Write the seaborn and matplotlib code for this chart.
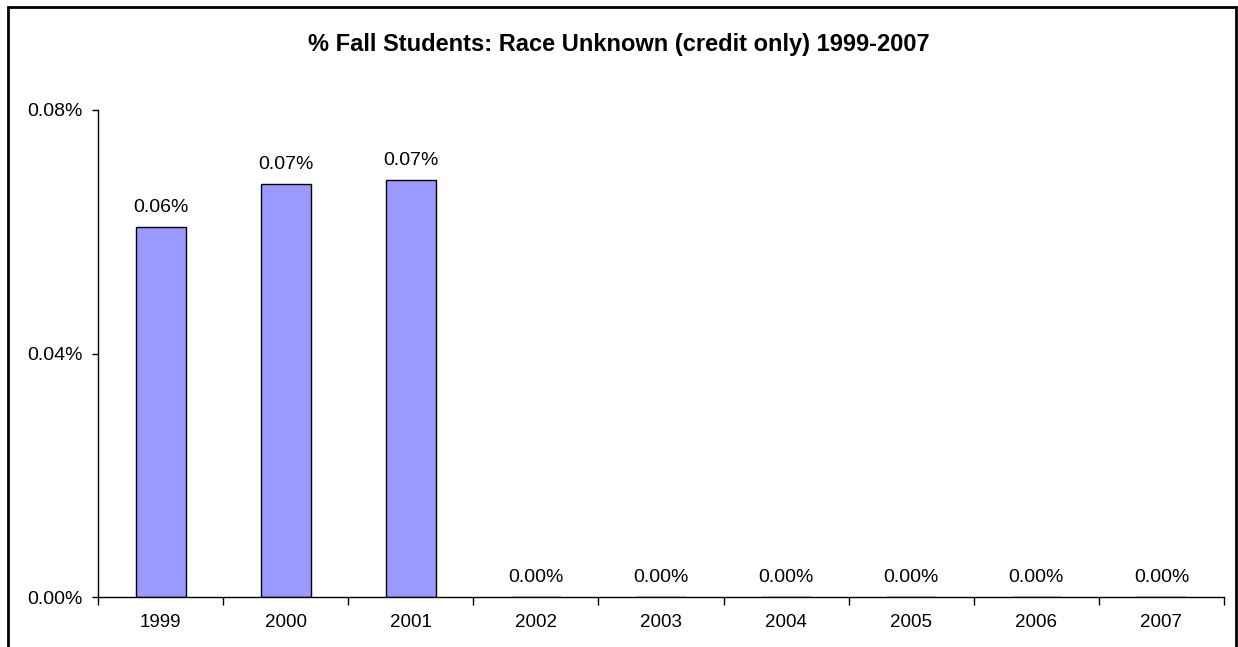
import matplotlib
matplotlib.use("Agg")
import matplotlib.pyplot as plt
import seaborn as sns
import pandas as pd
import numpy as np
from matplotlib.ticker import FuncFormatter, FixedLocator
from matplotlib.patches import Rectangle

years = ["1999", "2000", "2001", "2002", "2003", "2004", "2005", "2006", "2007"]
pct_unknown = [0.000608, 0.000678, 0.000685, 0.0, 0.0, 0.0, 0.0, 0.0, 0.0]
y_ticks = [0.0, 0.0004, 0.0008]
title = "% Fall Students: Race Unknown (credit only) 1999-2007"

df = pd.DataFrame({"year": years, "pct": pct_unknown})

sns.set_theme(style="white")
plt.rcParams["font.family"] = ["Liberation Sans", "DejaVu Sans"]

fig = plt.figure(figsize=(12.38, 6.47), dpi=100)
ax = fig.add_axes([98 / 1238, 1 - 597 / 647, (1224 - 98) / 1238, (597 - 110) / 647])

sns.barplot(data=df, x="year", y="pct", color="#9999FF", edgecolor="black",
            linewidth=1, width=0.4, saturation=1, ax=ax)

ax.set_xlim(-0.5, len(years) - 0.5)
ax.set_ylim(0, 0.0008)
ax.yaxis.set_major_locator(FixedLocator(y_ticks))
ax.yaxis.set_major_formatter(FuncFormatter(lambda v, p: f"{v * 100:.2f}%"))
ax.set_xlabel("")
ax.set_ylabel("")

# tick marks between the categories
ax.xaxis.set_minor_locator(FixedLocator(np.arange(-0.5, len(years), 1.0)))
ax.tick_params(axis="x", which="major", length=0, pad=12, labelsize=13.5, colors="black")
ax.tick_params(axis="x", which="minor", length=6, width=1, direction="out", bottom=True, color="black")
ax.tick_params(axis="y", which="major", length=4, width=1, direction="out", left=True,
               pad=7, labelsize=14, colors="black")

for side in ["top", "right"]:
    ax.spines[side].set_visible(False)
for side in ["left", "bottom"]:
    ax.spines[side].set_color("black")
    ax.spines[side].set_linewidth(1)

labels = [f"{v * 100:.2f}%" for v in pct_unknown]
ax.bar_label(ax.containers[0], labels=labels, padding=8, fontsize=14, color="black")

fig.text(0.5, 1 - 45 / 647, title, ha="center", va="center",
         fontsize=17, fontweight="bold", color="black")

# outer chart frame (bottom edge lies outside the image)
fig.add_artist(Rectangle((8 / 1238, -0.05), (1236 - 8) / 1238, 1.05 - 7 / 647,
                         transform=fig.transFigure, fill=False,
                         edgecolor="black", linewidth=2))

fig.savefig("out.png", dpi=100)
